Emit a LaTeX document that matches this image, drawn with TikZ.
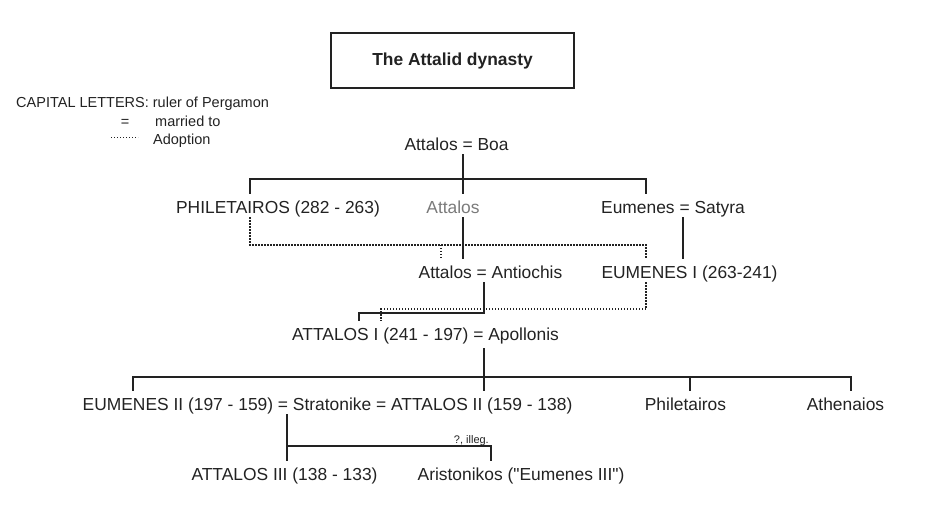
\documentclass[tikz,border=0pt]{standalone}
\usepackage{fontspec}
\setmainfont{Liberation Sans}[Ligatures=TeXOff]
\usepackage{tikz}
\definecolor{ink}{HTML}{222222}
\definecolor{faint}{HTML}{7A7A7A}

\begin{document}
\begin{tikzpicture}[x=1pt, y=-1pt,
  person/.style={anchor=base, inner sep=0pt, text height=19pt, text depth=4pt,
    text=ink, font=\fontsize{17.4}{20}\selectfont},
  legend/.style={anchor=base west, inner sep=0pt, text=ink, font=\fontsize{14.5}{17}\selectfont},
  note/.style={anchor=base east, inner sep=0pt, text=ink, font=\fontsize{11}{13}\selectfont},
  titlebox/.style={draw=ink, line width=1.6pt, minimum width=243pt, minimum height=55.5pt,
    text=ink, font=\fontsize{17.4}{20}\selectfont\bfseries},
  kin/.style={draw=ink, line width=1.6pt},
  adopt/.style={draw=ink, line width=1.3pt, dash pattern=on 1.3pt off 1.7pt}
  ]
  \useasboundingbox (0,0) rectangle (952,512);

  \node[titlebox] (title) at (452.5,60.5) {The Attalid dynasty};

  \node[legend] (legCap) at (16,107) {CAPITAL LETTERS: ruler of Pergamon};
  \node[legend, anchor=base] (legEq) at (125,126) {=};
  \node[legend] (legMar) at (155,126) {married to};
  \node[legend] (legAdo) at (153,144) {Adoption};
  \coordinate (legA) at (111,137);
  \coordinate (legB) at (138,137);
  \draw[adopt, line width=1pt, dash pattern=on 1pt off 2pt] (legA) -- (legB);

  \node[person] (boa) at (456.5,150) {Attalos = Boa};
  \node[person] (phil) at (278,213) {PHILETAIROS (282 - 263)};
  \node[person, text=faint] (attB) at (453,213) {Attalos};
  \node[person] (eumsat) at (673,213) {Eumenes = Satyra};
  \node[person] (antio) at (490.5,278) {Attalos = Antiochis};
  \node[person] (eumI) at (689.5,278) {EUMENES I (263-241)};
  \node[person] (attI) at (425.5,340) {ATTALOS I (241 - 197) = Apollonis};
  \node[person] (eumII) at (327.5,410) {EUMENES II (197 - 159) = Stratonike = ATTALOS II (159 - 138)};
  \node[person] (philII) at (685.5,410) {Philetairos};
  \node[person] (athen) at (845.5,410) {Athenaios};
  \node[person] (attIII) at (284.5,480) {ATTALOS III (138 - 133)};
  \node[person] (arist) at (521,480) {Aristonikos ("Eumenes III")};
  \node[note] (illeg) at (489,443) {?, illeg.};

  \foreach \n/\x in {lPhil/250, lBoa/463, lEum/646, lSat/683, lAdo/441, lAnt/484,
    lAtt/359, lAttd/381, lEumII/133, lPhilII/690, lAth/851, lStr/287, lAri/491}
    \coordinate (\n) at (\x,0);
  \foreach \n/\y in {yBoa/179, yAdoA/245, yAnt/313, yAdoB/309, yApo/377, yStr/446}
    \coordinate (\n) at (0,\y);

  \draw[kin] (phil.north -| lPhil) |- (yBoa -| lBoa) -| (eumsat.north -| lEum);
  \draw[kin] (boa.south -| lBoa) -- (attB.north -| lBoa);
  \draw[kin] (attB.south -| lBoa) -- (antio.north -| lBoa);
  \draw[kin] (eumsat.south -| lSat) -- (eumI.north -| lSat);
  \draw[adopt] (phil.south -| lPhil) |- (yAdoA -| lEum) -- (eumI.north -| lEum);
  \draw[adopt] (yAdoA -| lAdo) -- (antio.north -| lAdo);
  \draw[kin] (antio.south -| lAnt) |- (yAnt -| lAtt) -- (attI.north -| lAtt);
  \draw[adopt] (eumI.south -| lEum) |- (yAdoB -| lAttd) -- (attI.north -| lAttd);
  \draw[kin, shorten <=4pt] (attI.south -| lAnt) -- (eumII.north -| lAnt);
  \draw[kin] (eumII.north -| lEumII) |- (yApo -| lAth) -- (athen.north -| lAth);
  \draw[kin] (yApo -| lPhilII) -- (philII.north -| lPhilII);
  \draw[kin] (eumII.south -| lStr) -- (attIII.north -| lStr);
  \draw[kin] (yStr -| lStr) -| (arist.north -| lAri);
\end{tikzpicture}
\end{document}
